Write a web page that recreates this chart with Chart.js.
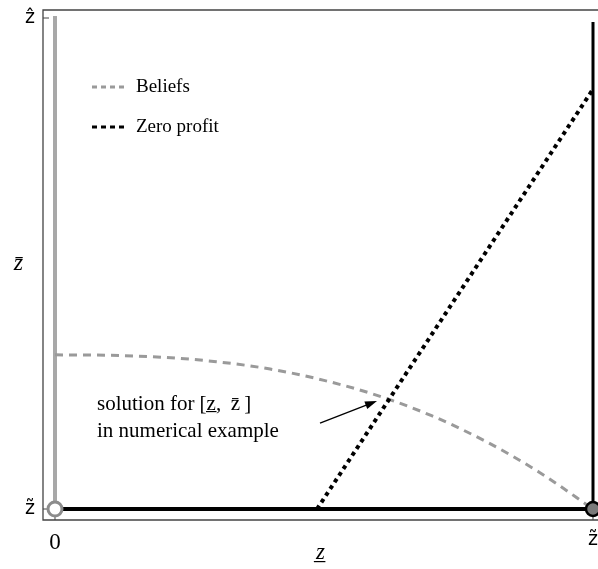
<!DOCTYPE html>
<html>
<head>
<meta charset="utf-8">
<script src="https://cdn.jsdelivr.net/npm/chart.js@4.4.1/dist/chart.umd.min.js"></script>
<style>
  html, body { margin: 0; padding: 0; background: #fff; overflow: hidden; width: 598px; height: 569px; }
  canvas { display: block; }
</style>
</head>
<body>
<!-- canvas a bit wider than the window: the right edge of the plot is cut off like in the original -->
<canvas id="myChart" width="608" height="569"></canvas>
<script>
// beliefs curve (0 = left end, 1 = right end)
const beliefsX = [0, 0.1, 0.2, 0.3, 0.4, 0.5, 0.6, 0.7, 0.8, 0.9, 1.0];
const beliefsY = [0.314, 0.313, 0.309, 0.300, 0.285, 0.262, 0.231, 0.190, 0.138, 0.075, 0];

// zero profit line
const zeroProfitX = [0.487, 1.0];
const zeroProfitY = [0, 0.855];

// boundary lines
const leftLineX = [0, 0];
const leftLineY = [0, 1.004];
const bottomLineX = [0, 1];
const bottomLineY = [0, 0];
const rightLineX = [1, 1];
const rightLineY = [0, 0.992];

// end points
const openPoint = [0, 0];
const filledPoint = [1, 0];

// ticks
const xTickValues = [0, 1];
const xTickLabels = ['0', 'z\u0303'];
const yTickValues = [0, 0.5, 1];
const yTickLabels = ['z\u0303', 'z\u0304  ', 'z\u0302'];
const xTitle = 'z\u0332';

// annotation
const noteLines = ['solution for [z\u0332,\u2009 z\u0304\u2009]', 'in numerical example'];
const noteAt = [0.078, 0.212];
const arrowFrom = [0.4926, 0.175];
const arrowTo = [0.5985, 0.22];

const xMin = -0.0223, xMax = 1.0093;
const yMin = -0.0224, yMax = 1.0163;

function pts(xs, ys) {
  return xs.map(function (x, i) { return {x: x, y: ys[i]}; });
}

const grey = '#9a9a9a';

const extras = {
  id: 'extras',
  beforeDatasetsDraw(chart) {
    const c = chart.ctx, a = chart.chartArea;
    const xs = chart.scales.x, ys = chart.scales.y;
    c.save();
    // frame
    c.strokeStyle = '#444';
    c.lineWidth = 1.3;
    c.beginPath();
    c.moveTo(a.right, a.top);
    c.lineTo(a.left, a.top);
    c.lineTo(a.left, a.bottom);
    c.lineTo(a.right, a.bottom);
    c.stroke();
    // small inward ticks
    c.lineWidth = 1;
    yTickValues.forEach(function (v) {
      if (v !== 0 && v !== 1) return;
      const py = ys.getPixelForValue(v);
      c.beginPath(); c.moveTo(a.left, py); c.lineTo(a.left + 6, py); c.stroke();
    });
    xTickValues.forEach(function (v) {
      const px = xs.getPixelForValue(v);
      c.beginPath(); c.moveTo(px, a.bottom); c.lineTo(px, a.bottom - 6); c.stroke();
    });
    c.restore();
  },
  afterDatasetsDraw(chart) {
    const c = chart.ctx, a = chart.chartArea;
    const xs = chart.scales.x, ys = chart.scales.y;
    c.save();
    // legend
    const items = [
      {text: 'Beliefs', color: grey},
      {text: 'Zero profit', color: '#000'}
    ];
    items.forEach(function (it, i) {
      const y = a.top + 77 + i * 40;
      c.strokeStyle = it.color;
      c.lineWidth = 3;
      c.setLineDash([5, 4]);
      c.beginPath(); c.moveTo(a.left + 49, y); c.lineTo(a.left + 85, y); c.stroke();
      c.setLineDash([]);
      c.fillStyle = '#000';
      c.font = '19px "Liberation Serif"';
      c.textBaseline = 'middle';
      c.textAlign = 'left';
      c.fillText(it.text, a.left + 93, y);
    });
    // annotation text
    c.font = '21px "Liberation Serif"';
    c.fillStyle = '#000';
    noteLines.forEach(function (t, i) {
      c.fillText(t, xs.getPixelForValue(noteAt[0]), ys.getPixelForValue(noteAt[1]) + i * 27);
    });
    // arrow
    const x1 = xs.getPixelForValue(arrowFrom[0]), y1 = ys.getPixelForValue(arrowFrom[1]);
    const x2 = xs.getPixelForValue(arrowTo[0]), y2 = ys.getPixelForValue(arrowTo[1]);
    const ang = Math.atan2(y2 - y1, x2 - x1);
    c.strokeStyle = '#000';
    c.lineWidth = 1.3;
    c.beginPath(); c.moveTo(x1, y1); c.lineTo(x2 - 8 * Math.cos(ang), y2 - 8 * Math.sin(ang)); c.stroke();
    c.beginPath();
    c.moveTo(x2, y2);
    c.lineTo(x2 - 12 * Math.cos(ang) + 4 * Math.sin(ang), y2 - 12 * Math.sin(ang) - 4 * Math.cos(ang));
    c.lineTo(x2 - 12 * Math.cos(ang) - 4 * Math.sin(ang), y2 - 12 * Math.sin(ang) + 4 * Math.cos(ang));
    c.closePath();
    c.fill();
    c.restore();
  }
};

const data = {
  datasets: [
    {
      label: 'open point',
      data: [{x: openPoint[0], y: openPoint[1]}],
      pointRadius: 7, pointBackgroundColor: '#fff', pointBorderColor: '#8c8c8c', pointBorderWidth: 3,
      showLine: false, order: 0
    },
    {
      label: 'filled point',
      data: [{x: filledPoint[0], y: filledPoint[1]}],
      pointRadius: 7, pointBackgroundColor: '#7a7a7a', pointBorderColor: '#000', pointBorderWidth: 2.5,
      showLine: false, order: 0
    },
    {
      label: 'Zero profit',
      data: pts(zeroProfitX, zeroProfitY),
      borderColor: '#000', borderWidth: 4, borderDash: [4, 4],
      showLine: true, pointRadius: 0, order: 2
    },
    {
      label: 'Beliefs',
      data: pts(beliefsX, beliefsY),
      borderColor: grey, borderWidth: 3, borderDash: [8, 6],
      showLine: true, pointRadius: 0, cubicInterpolationMode: 'monotone', order: 3
    },
    {
      label: 'bottom',
      data: pts(bottomLineX, bottomLineY),
      borderColor: '#000', borderWidth: 4, showLine: true, pointRadius: 0, order: 1
    },
    {
      label: 'right',
      data: pts(rightLineX, rightLineY),
      borderColor: '#000', borderWidth: 3, showLine: true, pointRadius: 0, order: 1
    },
    {
      label: 'left',
      data: pts(leftLineX, leftLineY),
      borderColor: '#a8a8a8', borderWidth: 4, showLine: true, pointRadius: 0, order: 4
    }
  ]
};

function zeroPad(s) { s.paddingTop = 0; s.paddingBottom = 0; s.paddingLeft = 0; s.paddingRight = 0; }

const config = {
  type: 'scatter',
  data: data,
  options: {
    responsive: false,
    animation: false,
    layout: { padding: { top: 10, right: 0, left: 0, bottom: 0 } },
    plugins: { legend: { display: false }, tooltip: { enabled: false } },
    scales: {
      x: {
        type: 'linear', min: xMin, max: xMax,
        grid: { display: false, drawTicks: false },
        border: { display: false },
        afterBuildTicks: function (s) { s.ticks = xTickValues.map(function (v) { return {value: v}; }); },
        afterFit: function (s) { s.height = 49; zeroPad(s); },
        ticks: {
          padding: 9, color: '#000', maxRotation: 0, autoSkip: false,
          callback: function (v) { return xTickLabels[xTickValues.indexOf(v)]; },
          font: function (ctx) {
            return ctx.tick && ctx.tick.value === 0
              ? {family: 'Liberation Serif', size: 23}
              : {family: 'DejaVu Sans', size: 19};
          }
        },
        title: {
          display: true, text: xTitle, color: '#000',
          font: {family: 'Liberation Serif', style: 'italic', size: 23},
          padding: {top: 0, bottom: 2}
        }
      },
      y: {
        type: 'linear', min: yMin, max: yMax,
        grid: { display: false, drawTicks: false },
        border: { display: false },
        afterBuildTicks: function (s) { s.ticks = yTickValues.map(function (v) { return {value: v}; }); },
        afterFit: function (s) { s.width = 43; zeroPad(s); },
        ticks: {
          padding: 8, color: '#000', autoSkip: false,
          callback: function (v) { return yTickLabels[yTickValues.indexOf(v)]; },
          font: function (ctx) {
            return ctx.tick && ctx.tick.value === 0.5
              ? {family: 'Liberation Serif', style: 'italic', size: 24}
              : {family: 'DejaVu Sans', size: 19};
          }
        }
      }
    }
  },
  plugins: [extras]
};

new Chart(document.getElementById('myChart'), config);
</script>
</body>
</html>
